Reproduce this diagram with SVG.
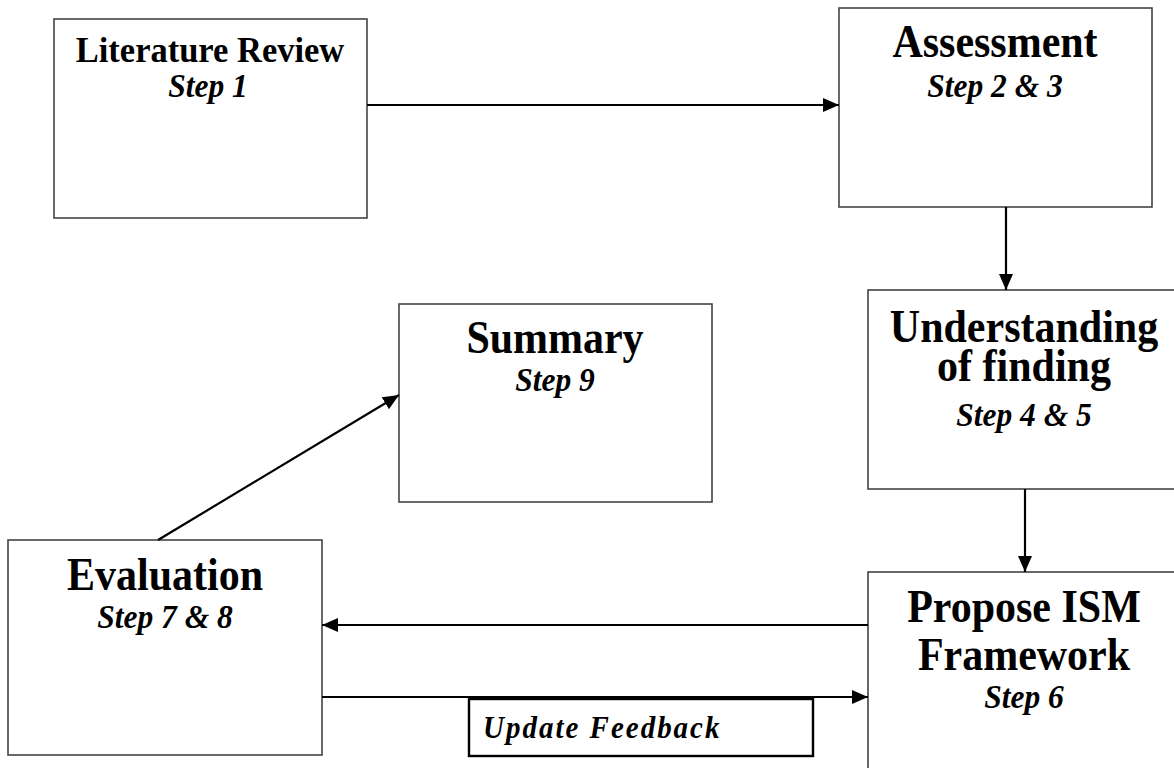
<svg xmlns="http://www.w3.org/2000/svg" width="1174" height="768" viewBox="0 0 1174 768">
<defs>
<marker id="ah" markerUnits="userSpaceOnUse" markerWidth="18" markerHeight="16" refX="16" refY="7" orient="auto">
<path d="M0,0 L16,7 L0,14 Z" fill="#000"/>
</marker>
<style>
.box{fill:#fff;stroke:#444;stroke-width:1.6}
.conn{stroke:#000;stroke-width:2.2;fill:none}
.h{font-family:"Liberation Serif","Times New Roman",serif;font-weight:bold;fill:#000;text-anchor:middle;font-size:42px}
.h.sm{font-size:34.5px}
.s{font-family:"Liberation Serif","Times New Roman",serif;font-weight:bold;font-style:italic;fill:#000;text-anchor:middle;font-size:31.5px}
</style>
</defs>
<rect width="1174" height="768" fill="#fff"/>
<g id="lit">
<rect class="box" x="54" y="19" width="313" height="199"/>
<text class="h sm" transform="translate(210,62) scale(1,1.05)">Literature Review</text>
<text class="s" transform="translate(208,97) scale(1,1.05)">Step 1</text>
</g>
<g id="assess">
<rect class="box" x="839" y="8" width="313" height="199"/>
<text class="h" transform="translate(995,57) scale(1,1.1)">Assessment</text>
<text class="s" transform="translate(995,97) scale(1,1.05)">Step 2 &amp; 3</text>
</g>
<g id="under">
<rect class="box" x="868" y="290" width="320" height="199"/>
<text class="h" transform="translate(1024,342) scale(1,1.1)">Understanding</text>
<text class="h" transform="translate(1024,381) scale(1,1.1)">of finding</text>
<text class="s" transform="translate(1024,426) scale(1,1.05)">Step 4 &amp; 5</text>
</g>
<g id="summary">
<rect class="box" x="399" y="304" width="313" height="198"/>
<text class="h" transform="translate(555,353) scale(1,1.1)">Summary</text>
<text class="s" transform="translate(555,391) scale(1,1.05)">Step 9</text>
</g>
<g id="eval">
<rect class="box" x="8" y="540" width="314" height="215"/>
<text class="h" transform="translate(165,590) scale(1,1.1)">Evaluation</text>
<text class="s" transform="translate(165,628) scale(1,1.05)">Step 7 &amp; 8</text>
</g>
<g id="propose">
<rect class="box" x="868" y="572" width="320" height="210"/>
<text class="h" transform="translate(1024,622) scale(1,1.1)">Propose ISM</text>
<text class="h" transform="translate(1024,670) scale(1,1.1)">Framework</text>
<text class="s" transform="translate(1024,708) scale(1,1.05)">Step 6</text>
</g>
<g id="feedback">
<rect x="469" y="699" width="344" height="57" fill="#fff" stroke="#000" stroke-width="2.4"/>
<text transform="translate(483,738) scale(1,1.1)" font-family="'Liberation Serif','Times New Roman',serif" font-weight="bold" font-style="italic" font-size="29" letter-spacing="2" fill="#000">Update Feedback</text>
</g>
<g id="connectors">
<line class="conn" x1="367" y1="105" x2="839" y2="105" marker-end="url(#ah)"/>
<line class="conn" x1="1006" y1="207" x2="1006" y2="290" marker-end="url(#ah)"/>
<line class="conn" x1="1025" y1="489" x2="1025" y2="572" marker-end="url(#ah)"/>
<line class="conn" x1="868" y1="625" x2="322" y2="625" marker-end="url(#ah)"/>
<line class="conn" x1="322" y1="697" x2="868" y2="697" marker-end="url(#ah)"/>
<line class="conn" x1="158" y1="540" x2="399" y2="395" marker-end="url(#ah)"/>
</g>
</svg>
